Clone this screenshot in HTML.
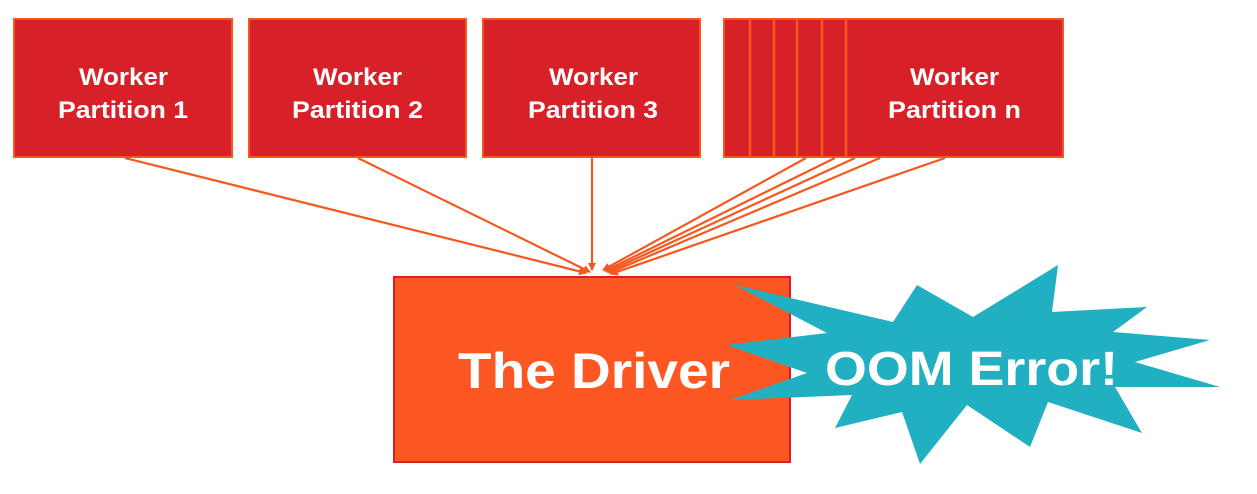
<!DOCTYPE html>
<html><head><style>
body{margin:0;background:#fff;}
svg{display:block;}
text{font-family:"Liberation Sans",sans-serif;font-weight:bold;fill:#fff;}
</style></head><body>
<svg width="1257" height="494" viewBox="0 0 1257 494" xmlns="http://www.w3.org/2000/svg">
<defs><marker id="a" markerWidth="8" markerHeight="8" refX="7" refY="4" orient="auto" markerUnits="userSpaceOnUse"><path d="M0,0 L8,4 L0,8z" fill="#f4581f"/></marker></defs>
<g fill="#d82028" stroke="#f4581f" stroke-width="2">
<rect x="14" y="19" width="218" height="138"/>
<rect x="249" y="19" width="217" height="138"/>
<rect x="483" y="19" width="217" height="138"/>
<rect x="724" y="19" width="339" height="138"/>
</g>
<g stroke="#f4581f" stroke-width="2.5">
<line x1="750" y1="19" x2="750" y2="157"/><line x1="774" y1="19" x2="774" y2="157"/><line x1="797" y1="19" x2="797" y2="157"/><line x1="822" y1="19" x2="822" y2="157"/><line x1="846" y1="19" x2="846" y2="157"/>
</g>
<g stroke="#f4581f" stroke-width="2.2" marker-end="url(#a)" fill="none">
<line x1="125" y1="158" x2="586" y2="273"/>
<line x1="358" y1="158" x2="590" y2="272"/>
<line x1="592" y1="158" x2="592" y2="270"/>
<line x1="806" y1="158" x2="603" y2="270"/>
<line x1="835" y1="158" x2="605" y2="271"/>
<line x1="855" y1="158" x2="607" y2="272"/>
<line x1="880" y1="158" x2="609" y2="273"/>
<line x1="945" y1="158" x2="611" y2="274"/>
</g>
<rect x="394" y="277" width="396" height="185" fill="#fc5722" stroke="#d82028" stroke-width="2"/>
<text x="458" y="388" font-size="50" textLength="272" lengthAdjust="spacingAndGlyphs">The Driver</text>
<polygon fill="#20b0c2" points="735,285 893,322 917,285 973,317 1058,265 1052,312 1147,307 1113,332 1210,340 1135,362 1220,387 1115,387 1142,433 1048,402 1030,447 967,405 920,464 902,412 835,428 852,395 730,400 807,373 727,345 827,333"/>
<text x="825" y="385" font-size="48" textLength="293" lengthAdjust="spacingAndGlyphs">OOM Error!</text>
<g font-size="24">
<text x="79" y="85" textLength="89" lengthAdjust="spacingAndGlyphs">Worker</text><text x="58" y="118" textLength="130" lengthAdjust="spacingAndGlyphs">Partition 1</text>
<text x="313" y="85" textLength="89" lengthAdjust="spacingAndGlyphs">Worker</text><text x="292" y="118" textLength="131" lengthAdjust="spacingAndGlyphs">Partition 2</text>
<text x="549" y="85" textLength="89" lengthAdjust="spacingAndGlyphs">Worker</text><text x="528" y="118" textLength="130" lengthAdjust="spacingAndGlyphs">Partition 3</text>
<text x="910" y="85" textLength="89" lengthAdjust="spacingAndGlyphs">Worker</text><text x="888" y="118" textLength="133" lengthAdjust="spacingAndGlyphs">Partition n</text>
</g>
</svg>
</body></html>
